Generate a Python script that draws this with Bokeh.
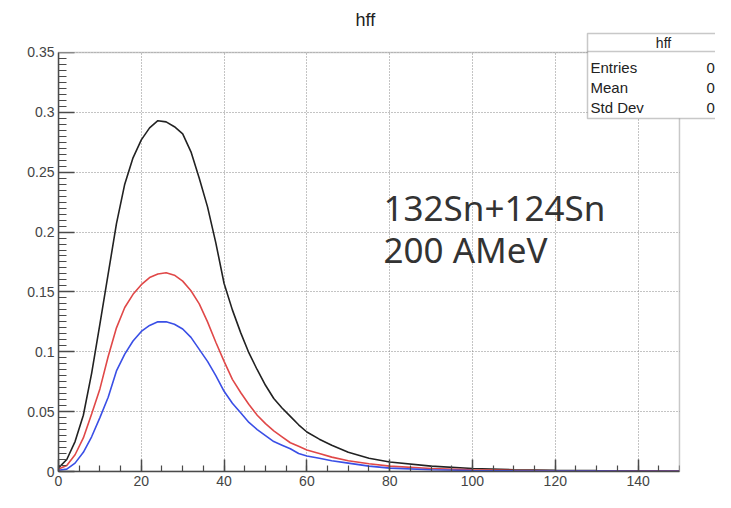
from bokeh.plotting import figure
from bokeh.models import (Range1d, FixedTicker, Label, PolyAnnotation, BoxAnnotation)
from bokeh.embed import file_html
from bokeh.resources import INLINE

# ---- data ----
x_vals = [0, 2, 4, 6, 8, 10, 12, 14, 16, 18, 20, 22, 24, 26, 28, 30, 32, 34, 36, 38,
          40, 42, 44, 46, 48, 50, 52, 54, 56, 58, 60, 63, 66, 70, 75, 80, 90,
          100, 110, 120, 130, 140, 150]
black_vals = [0.003, 0.010, 0.025, 0.047, 0.082, 0.123, 0.165, 0.207, 0.240, 0.262,
              0.277, 0.287, 0.293, 0.292, 0.288, 0.282, 0.267, 0.245, 0.221, 0.191,
              0.157, 0.135, 0.116, 0.099, 0.085, 0.072, 0.061, 0.053, 0.046, 0.039,
              0.033, 0.027, 0.022, 0.016, 0.011, 0.008, 0.0045,
              0.0025, 0.0015, 0.0010, 0.0007, 0.0005, 0.0004]
red_vals = [0.002, 0.005, 0.014, 0.028, 0.048, 0.069, 0.096, 0.120, 0.137, 0.148,
            0.156, 0.162, 0.165, 0.166, 0.164, 0.159, 0.151, 0.140, 0.125, 0.108,
            0.092, 0.077, 0.066, 0.056, 0.047, 0.040, 0.034, 0.029, 0.024, 0.021,
            0.018, 0.015, 0.012, 0.009, 0.0065, 0.0045, 0.0025,
            0.0014, 0.0009, 0.0006, 0.0004, 0.0003, 0.0003]
blue_vals = [0.001, 0.002, 0.007, 0.016, 0.029, 0.045, 0.062, 0.084, 0.098, 0.109,
             0.117, 0.122, 0.125, 0.125, 0.123, 0.119, 0.112, 0.102, 0.092, 0.080,
             0.067, 0.057, 0.049, 0.041, 0.035, 0.030, 0.025, 0.022, 0.019, 0.015,
             0.013, 0.011, 0.009, 0.007, 0.0045, 0.0028, 0.0014,
             0.0008, 0.0005, 0.0004, 0.0003, 0.0002, 0.0002]

x_ticks = [0, 20, 40, 60, 80, 100, 120, 140]
y_ticks = [0, 0.05, 0.1, 0.15, 0.2, 0.25, 0.3, 0.35]
y_tick_labels = ["0", "0.05", "0.1", "0.15", "0.2", "0.25", "0.3", "0.35"]
x_lim = (0, 150)
y_lim = (0, 0.35)
stat_names = ["Entries", "Mean", "Std Dev"]
stat_values = ["0", "0", "0"]
title_text = "hff"
note_lines = ["132Sn+124Sn", "200 AMeV"]

FONT = "Liberation Sans"
AX = "#4a4a4a"

# frame extends a little beyond the axes so the stats box can overlap the corner
p = figure(width=715, height=492, output_backend="svg", toolbar_location=None,
           x_range=Range1d(0, 158.7), y_range=Range1d(0, 0.3675),
           min_border_left=58, min_border_right=0, min_border_top=31,
           min_border_bottom=21)
p.background_fill_color = "white"
p.border_fill_color = "white"
p.outline_line_color = None

p.title.text = title_text
p.title.text_font = FONT
p.title.text_font_size = "18px"
p.title.text_font_style = "normal"
p.title.text_color = "#222"
p.title.align = "left"
p.title.offset = 297
p.title.standoff = 4

xt = FixedTicker(ticks=x_ticks, minor_ticks=[v * 5 for v in range(0, 31)])
yt = FixedTicker(ticks=y_ticks, minor_ticks=[v * 0.005 for v in range(0, 71)])
p.xaxis.ticker = xt
p.yaxis.ticker = yt
p.xgrid.ticker = xt
p.ygrid.ticker = yt
p.xaxis.bounds = x_lim
p.yaxis.bounds = y_lim
p.yaxis.major_label_overrides = {t: s for t, s in zip(y_ticks, y_tick_labels)}

for ax in (p.xaxis[0], p.yaxis[0]):
    ax.axis_line_color = AX
    ax.axis_line_width = 1.5
    ax.major_tick_line_color = AX
    ax.minor_tick_line_color = AX
    ax.major_tick_line_width = 1.5
    ax.minor_tick_line_width = 1.2
    ax.major_tick_out = 0
    ax.minor_tick_out = 0
    ax.major_label_text_font = FONT
    ax.major_label_text_font_size = "14px"
    ax.major_label_text_color = "#444"

p.xaxis.major_tick_in = 12
p.xaxis.minor_tick_in = 6
p.yaxis.major_tick_in = 16
p.yaxis.minor_tick_in = 8
p.xaxis.major_label_standoff = 4
p.yaxis.major_label_standoff = 4

for g in (p.xgrid[0], p.ygrid[0]):
    g.grid_line_color = "#888888"
    g.grid_line_dash = "1 2"
    g.grid_line_width = 1

p.line(x_vals, black_vals, line_color="#222222", line_width=1.6)
p.line(x_vals, red_vals, line_color="#e04848", line_width=1.6)
p.line(x_vals, blue_vals, line_color="#3a4fe6", line_width=1.6)

# hide grid parts outside the axes' box, then draw the box border
p.add_layout(BoxAnnotation(bottom=y_lim[1], top=1, left=-10, right=200,
                           fill_color="white", fill_alpha=1.0, line_color=None))
p.add_layout(BoxAnnotation(left=x_lim[1], right=200, bottom=-1, top=1,
                           fill_color="white", fill_alpha=1.0, line_color=None))
p.add_layout(BoxAnnotation(left=x_lim[0], right=x_lim[1], bottom=y_lim[0], top=y_lim[1],
                           fill_alpha=0.0, line_color=AX, line_width=1.5))

# annotation text
for line, fy in zip(note_lines, [264, 222]):
    p.add_layout(Label(x=325, y=fy, x_units="screen", y_units="screen", text=line,
                       text_align="left", text_baseline="alphabetic",
                       text_font="Noto Sans", text_font_size="35px", text_color="#333"))

# stats box
p.add_layout(PolyAnnotation(xs=[529, 700, 700, 529], ys=[438, 438, 353, 353],
                            xs_units="screen", ys_units="screen",
                            fill_color="white", fill_alpha=1.0,
                            line_color=AX, line_width=1.5))
p.add_layout(PolyAnnotation(xs=[529, 700], ys=[420, 420],
                            xs_units="screen", ys_units="screen",
                            fill_alpha=0.0, line_color=AX, line_width=1.5))
p.add_layout(Label(x=605, y=429, x_units="screen", y_units="screen", text=title_text,
                   text_align="center", text_baseline="middle",
                   text_font=FONT, text_font_size="14px", text_color="#222"))
for name, val, fy in zip(stat_names, stat_values, [404, 384, 364]):
    p.add_layout(Label(x=532, y=fy, x_units="screen", y_units="screen", text=name,
                       text_align="left", text_baseline="middle",
                       text_font=FONT, text_font_size="15px", text_color="#222"))
    p.add_layout(Label(x=648, y=fy, x_units="screen", y_units="screen", text=val,
                       text_align="left", text_baseline="middle",
                       text_font=FONT, text_font_size="15px", text_color="#222"))

open("out.html", "w").write(file_html(p, INLINE))
